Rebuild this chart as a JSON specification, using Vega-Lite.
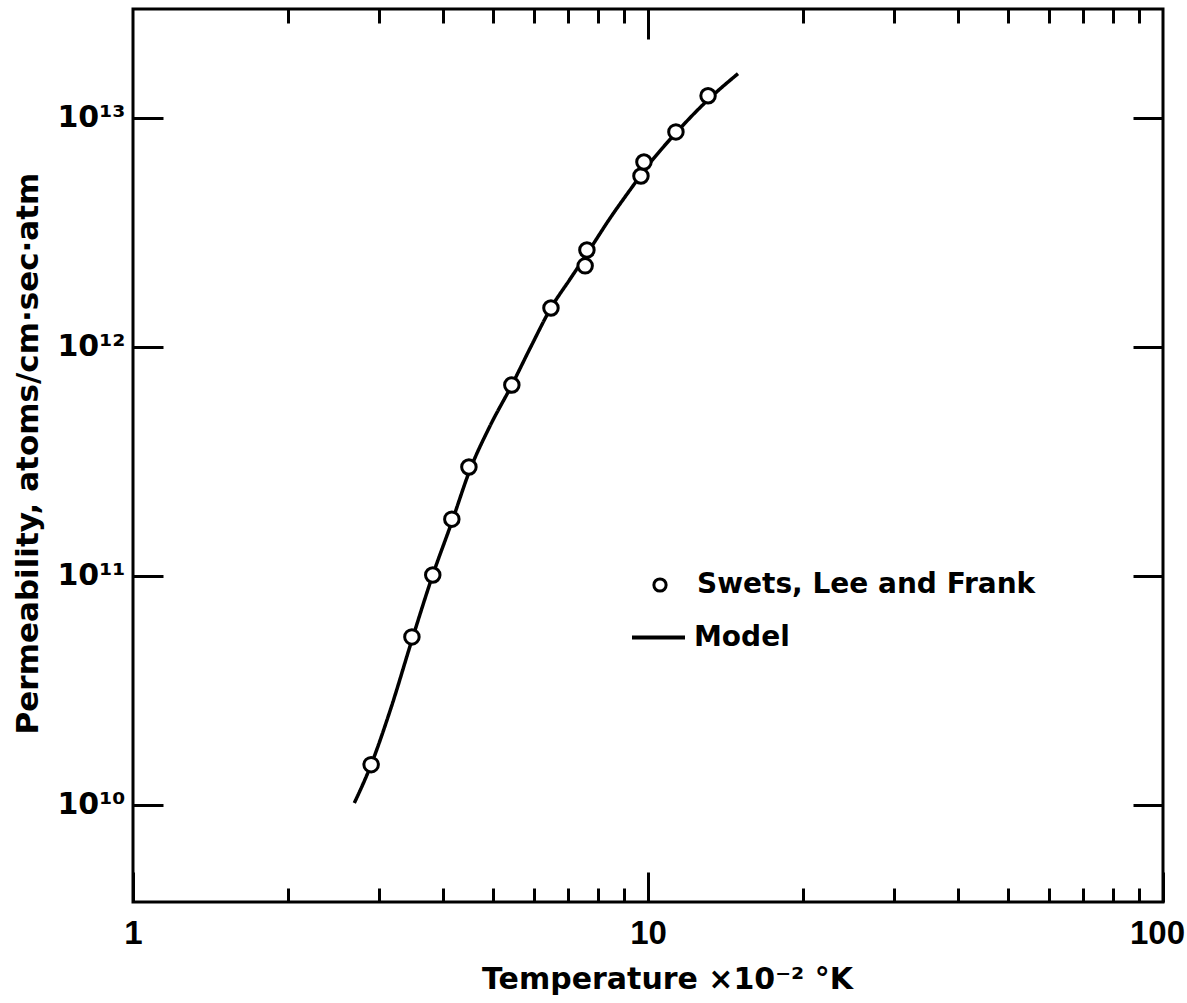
{
  "$schema": "https://vega.github.io/schema/vega-lite/v6.json",
  "autosize": {"type": "none"},
  "padding": {"left": 133, "top": 9, "right": 24, "bottom": 101},
  "width": 1030,
  "height": 893,
  "background": "white",
  "config": {
    "view": {"stroke": "black", "strokeWidth": 3},
    "font": "DejaVu Sans",
    "axis": {"domain": false, "grid": false, "tickColor": "black", "tickWidth": 3, "labelColor": "black", "titleColor": "black", "labelFont": "Liberation Sans", "titleFont": "DejaVu Sans"},
    "legend": {"padding": 0, "labelFont": "DejaVu Sans", "labelFontWeight": "bold", "labelFontSize": 28, "labelColor": "black", "labelLimit": 0}
  },
  "datasets": {
    "obs": [
      {"T": 2.90, "P": 1.50e10, "series": "Swets, Lee and Frank"},
      {"T": 3.48, "P": 5.42e10, "series": "Swets, Lee and Frank"},
      {"T": 3.82, "P": 1.01e11, "series": "Swets, Lee and Frank"},
      {"T": 4.16, "P": 1.77e11, "series": "Swets, Lee and Frank"},
      {"T": 4.49, "P": 2.99e11, "series": "Swets, Lee and Frank"},
      {"T": 5.44, "P": 6.82e11, "series": "Swets, Lee and Frank"},
      {"T": 6.48, "P": 1.48e12, "series": "Swets, Lee and Frank"},
      {"T": 7.55, "P": 2.26e12, "series": "Swets, Lee and Frank"},
      {"T": 7.61, "P": 2.65e12, "series": "Swets, Lee and Frank"},
      {"T": 9.69, "P": 5.58e12, "series": "Swets, Lee and Frank"},
      {"T": 9.82, "P": 6.42e12, "series": "Swets, Lee and Frank"},
      {"T": 11.33, "P": 8.69e12, "series": "Swets, Lee and Frank"},
      {"T": 13.08, "P": 1.25e13, "series": "Swets, Lee and Frank"}
    ],
    "model": [
      {"T": 2.69, "P": 1.02e10, "series": "Model"},
      {"T": 2.90, "P": 1.50e10, "series": "Model"},
      {"T": 3.16, "P": 2.60e10, "series": "Model"},
      {"T": 3.48, "P": 5.25e10, "series": "Model"},
      {"T": 3.82, "P": 1.01e11, "series": "Model"},
      {"T": 4.16, "P": 1.72e11, "series": "Model"},
      {"T": 4.51, "P": 2.90e11, "series": "Model"},
      {"T": 4.93, "P": 4.50e11, "series": "Model"},
      {"T": 5.44, "P": 6.82e11, "series": "Model"},
      {"T": 5.92, "P": 1.00e12, "series": "Model"},
      {"T": 6.48, "P": 1.48e12, "series": "Model"},
      {"T": 7.06, "P": 1.98e12, "series": "Model"},
      {"T": 7.61, "P": 2.55e12, "series": "Model"},
      {"T": 8.44, "P": 3.65e12, "series": "Model"},
      {"T": 9.23, "P": 4.85e12, "series": "Model"},
      {"T": 10.0, "P": 6.20e12, "series": "Model"},
      {"T": 11.33, "P": 8.60e12, "series": "Model"},
      {"T": 13.08, "P": 1.20e13, "series": "Model"},
      {"T": 14.95, "P": 1.56e13, "series": "Model"}
    ]
  },
  "resolve": {"axis": {"x": "independent", "y": "independent"}},
  "layer": [
    {
      "data": {"name": "model"},
      "mark": {"type": "line", "color": "black", "strokeWidth": 3.5, "interpolate": "monotone"},
      "encoding": {
        "x": {"field": "T", "type": "quantitative",
              "scale": {"type": "log", "domain": [1, 100], "nice": false},
              "axis": {"orient": "bottom", "values": [1, 10, 100], "tickSize": -30, "labelPadding": 45, "labelFontSize": 33, "labelFontWeight": "bold", "labelFlush": false,
                       "labelOffset": {"condition": {"test": "datum.value == 100", "value": -6}, "value": 0},
                       "labelExpr": "format(datum.value, 'd')",
                       "title": "Temperature ×10⁻² °K", "titleFontSize": 30, "titleFontWeight": "bold", "titlePadding": 14, "titleX": 534, "titleAlign": "center", "titleAnchor": null}},
        "y": {"field": "P", "type": "quantitative",
              "scale": {"type": "log", "domain": [3.77e9, 2.99e13], "nice": false},
              "axis": {"orient": "left", "values": [1e10, 1e11, 1e12, 1e13], "tickSize": -30, "labelPadding": 38, "labelFont": "DejaVu Sans", "labelFontSize": 30, "labelFontWeight": "bold",
                       "labelExpr": "datum.value == 1e10 ? '10¹⁰' : datum.value == 1e11 ? '10¹¹' : datum.value == 1e12 ? '10¹²' : '10¹³'",
                       "title": "Permeability, atoms/cm·sec·atm", "titleFontSize": 31, "titleFontWeight": "bold", "titlePadding": 12, "titleY": 444, "titleAlign": "center", "titleAnchor": null}},
        "strokeDash": {"field": "series", "type": "nominal",
                       "scale": {"domain": ["Model"], "range": [[1, 0]]},
                       "legend": {"orient": "none", "legendX": 497, "legendY": 600, "title": null, "symbolType": "stroke", "symbolSize": 2809, "symbolStrokeWidth": 4, "symbolStrokeColor": "black", "labelOffset": 7}}
      }
    },
    {
      "data": {"name": "obs"},
      "mark": {"type": "point", "shape": "circle", "filled": false, "fill": "white", "strokeWidth": 3, "size": 210, "opacity": 1},
      "encoding": {
        "x": {"field": "T", "type": "quantitative",
              "axis": {"orient": "bottom", "values": [2, 3, 4, 5, 6, 7, 8, 9, 20, 30, 40, 50, 60, 70, 80, 90], "tickSize": -14, "labels": false, "title": null}},
        "y": {"field": "P", "type": "quantitative",
              "axis": {"orient": "right", "values": [1e10, 1e11, 1e12, 1e13], "tickSize": -30, "labels": false, "title": null}},
        "color": {"field": "series", "type": "nominal",
                  "scale": {"domain": ["Swets, Lee and Frank"], "range": ["black"]},
                  "legend": {"orient": "none", "legendX": 513, "legendY": 562, "title": null, "symbolType": "circle", "symbolSize": 150, "symbolStrokeWidth": 3, "symbolFillColor": "white", "symbolOpacity": 1, "labelOffset": 23}}
      }
    },
    {
      "data": {"name": "obs"},
      "mark": {"type": "point", "opacity": 0},
      "encoding": {
        "x": {"field": "T", "type": "quantitative",
              "axis": {"orient": "top", "values": [10], "tickSize": -30, "labels": false, "title": null}},
        "y": {"field": "P", "type": "quantitative", "axis": null}
      }
    },
    {
      "data": {"name": "obs"},
      "mark": {"type": "point", "opacity": 0},
      "encoding": {
        "x": {"field": "T", "type": "quantitative",
              "axis": {"orient": "top", "values": [2, 3, 4, 5, 6, 7, 8, 9, 20, 30, 40, 50, 60, 70, 80, 90], "tickSize": -14, "labels": false, "title": null}},
        "y": {"field": "P", "type": "quantitative", "axis": null}
      }
    }
  ]
}
